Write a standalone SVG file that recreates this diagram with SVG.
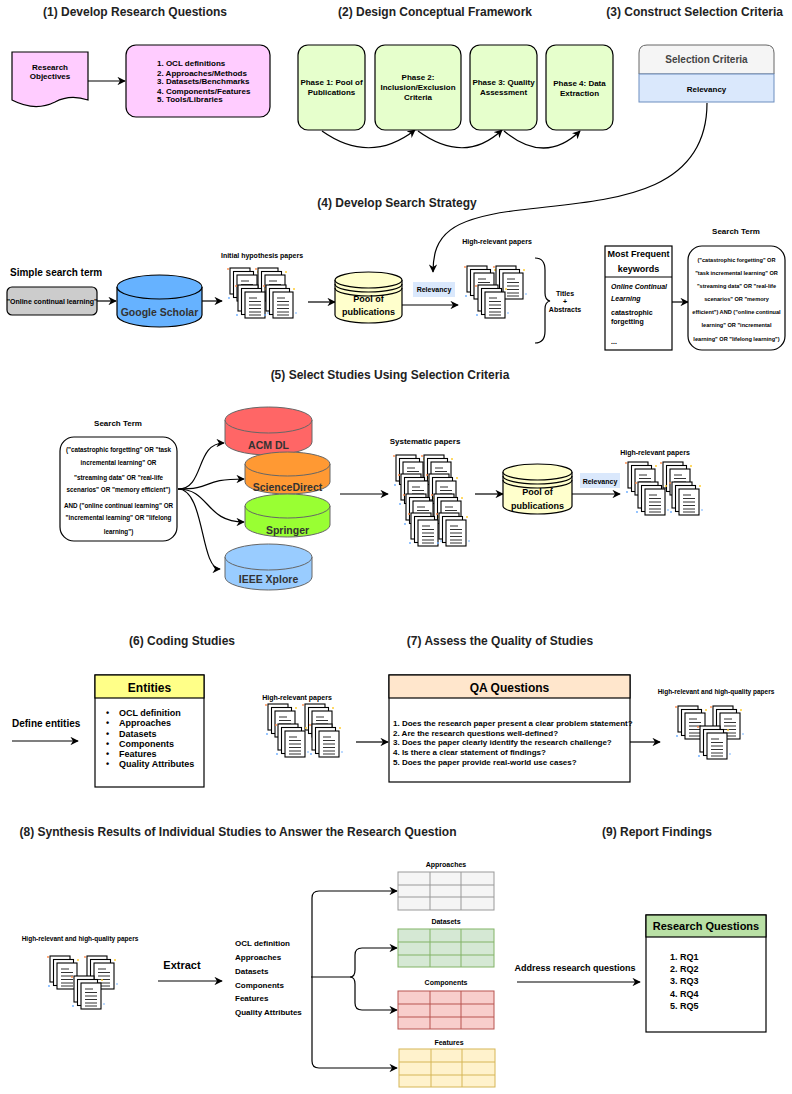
<svg xmlns="http://www.w3.org/2000/svg" xmlns:xlink="http://www.w3.org/1999/xlink" width="792" height="1094" viewBox="0 0 792 1094">
<style>
text{font-family:"Liberation Sans",Arial,sans-serif;font-weight:bold;fill:#000}
.t{font-size:12px;text-anchor:middle;fill:#222}
.c{text-anchor:middle}
.s7{font-size:7px}.s8{font-size:8px}.s9{font-size:9px}.s10{font-size:10px}
.ln{fill:none;stroke:#000;stroke-width:1.2}
.bx{stroke:#000;stroke-width:1.2}
.sh{fill:#fff;stroke:#000;stroke-width:1.1}
.db{font-size:10.5px;fill:#333}
</style>
<defs>
<marker id="a" viewBox="0 0 10 10" refX="9" refY="5" markerWidth="7" markerHeight="7" orient="auto"><path d="M0,0 L10,5 L0,10 L3,5z" fill="#000"/></marker>
<g id="stk">
<rect class="sh" x="0" y="0" width="20" height="26"/>
<rect class="sh" x="3.5" y="3.5" width="20" height="26"/>
<rect class="sh" x="7" y="7" width="20" height="26"/>
<path d="M11,13h8M11,16.5h12M11,20h12M11,23.5h12M11,27h12M11,30h12" stroke="#333" stroke-width="1.2"/>
<circle cx="-2" cy="1" r="0.9" fill="#f84"/><circle cx="28" cy="4" r="1" fill="#fc3"/><circle cx="-1" cy="30" r="0.9" fill="#6af"/><circle cx="30" cy="28" r="0.8" fill="#6af"/>
</g>
</defs>

<text class="t" x="135" y="16">(1) Develop Research Questions</text>
<text class="t" x="435" y="16">(2) Design Conceptual Framework</text>
<text class="t" x="783" y="16" style="text-anchor:end">(3) Construct Selection Criteria</text>
<text class="t" x="397" y="207">(4) Develop Search Strategy</text>
<text class="t" x="390" y="379">(5) Select Studies Using Selection Criteria</text>
<text class="t" x="182" y="645">(6) Coding Studies</text>
<text class="t" x="500" y="645">(7) Assess the Quality of Studies</text>
<text class="t" x="238" y="836">(8) Synthesis Results of Individual Studies to Answer the Research Question</text>
<text class="t" x="657" y="836">(9) Report Findings</text>

<g id="connectors">
<path class="ln" d="M88,81 H125" marker-end="url(#a)"/>
<path class="ln" d="M322,131 Q370,165 415,130" marker-end="url(#a)"/>
<path class="ln" d="M418,131 Q465,165 502,130" marker-end="url(#a)"/>
<path class="ln" d="M504,131 Q545,165 580,131" marker-end="url(#a)"/>
<path class="ln" d="M707,103 C707,200 600,200 520,210 C450,218 433,235 433,272" marker-end="url(#a)"/>
<path class="ln" d="M97,301 H116" marker-end="url(#a)"/>
<path class="ln" d="M202,301 H222" marker-end="url(#a)"/>
<path class="ln" d="M308,302 H335" marker-end="url(#a)"/>
<path class="ln" d="M402,305 H458" marker-end="url(#a)"/>
<path class="ln" d="M535,258 Q545,258 545,270 V293 Q545,300 550,301 Q545,302 545,309 V331 Q545,343 535,343"/>
<path class="ln" d="M672,302 H688" marker-end="url(#a)"/>
<path class="ln" d="M178,489 C205,489 195,443 224,443" marker-end="url(#a)"/>
<path class="ln" d="M178,489 C215,489 200,479 244,479" marker-end="url(#a)"/>
<path class="ln" d="M178,489 C210,489 205,522 244,522" marker-end="url(#a)"/>
<path class="ln" d="M178,489 C205,489 200,569 220,569" marker-end="url(#a)"/>
<path class="ln" d="M340,494 H388" marker-end="url(#a)"/>
<path class="ln" d="M475,494 H503" marker-end="url(#a)"/>
<path class="ln" d="M572,494 H620" marker-end="url(#a)"/>
<path class="ln" d="M12,741 H78" marker-end="url(#a)"/>
<path class="ln" d="M356,742 H388" marker-end="url(#a)"/>
<path class="ln" d="M630,742 H660" marker-end="url(#a)"/>
<path class="ln" d="M158,981 H222" marker-end="url(#a)"/>
<path class="ln" d="M311,977 H350 Q355,977 355,970 V955 Q355,948 362,948 H397" marker-end="url(#a)"/>
<path class="ln" d="M350,977 Q355,977 355,984 V1003 Q355,1010 362,1010 H397" marker-end="url(#a)"/>
<path class="ln" d="M312,977 V898 Q312,891 319,891 H397" marker-end="url(#a)"/>
<path class="ln" d="M312,977 V1061 Q312,1068 319,1068 H397" marker-end="url(#a)"/>
<path class="ln" d="M517,982 H640" marker-end="url(#a)"/>
</g>

<g id="objectives">
<path class="bx" d="M12,52 H88 V100 Q70,94 55,102 Q35,112 12,100 Z" fill="#FFCCFF"/>
<text class="c s8" x="50" y="70">Research</text><text class="c s8" x="50" y="79">Objectives</text>
</g>
<g id="rq-list">
<rect class="bx" x="126" y="45" width="144" height="72" rx="10" fill="#FFCCFF"/>
<text class="s8" x="157" y="66">1. OCL definitions</text>
<text class="s8" x="157" y="76">2. Approaches/Methods</text>
<text class="s8" x="157" y="84">3. Datasets/Benchmarks</text>
<text class="s8" x="157" y="94">4. Components/Features</text>
<text class="s8" x="157" y="102">5. Tools/Libraries</text>
</g>
<g id="phase1"><rect class="bx" x="298" y="45" width="67" height="85" rx="10" fill="#E6FFCC"/>
<text class="c s8" x="331.5" y="85">Phase 1: Pool of</text><text class="c s8" x="331.5" y="95">Publications</text></g>
<g id="phase2"><rect class="bx" x="375" y="45" width="86" height="85" rx="10" fill="#E6FFCC"/>
<text class="c s8" x="418" y="80">Phase 2:</text><text class="c s8" x="418" y="90">Inclusion/Exclusion</text><text class="c s8" x="418" y="100">Criteria</text></g>
<g id="phase3"><rect class="bx" x="470" y="45" width="67" height="85" rx="10" fill="#E6FFCC"/>
<text class="c s8" x="503.5" y="85">Phase 3: Quality</text><text class="c s8" x="503.5" y="95">Assessment</text></g>
<g id="phase4"><rect class="bx" x="546" y="45" width="67" height="85" rx="10" fill="#E6FFCC"/>
<text class="c s8" x="579.5" y="86">Phase 4: Data</text><text class="c s8" x="579.5" y="96">Extraction</text></g>
<g id="selection-criteria">
<path d="M639,74 V53 Q639,45 647,45 H766 Q774,45 774,53 V74 Z" fill="#f5f5f5" stroke="#666"/>
<rect x="639" y="74" width="135" height="28" fill="#dae8fc" stroke="#6c8ebf"/>
<text class="c s10" x="706.5" y="63" style="fill:#444">Selection Criteria</text>
<text class="c s8" x="706.5" y="92">Relevancy</text>
</g>
<g id="simple-term">
<text class="s10" x="10" y="276">Simple search term</text>
<rect class="bx" x="7" y="287" width="90" height="28" rx="5" fill="#ccc"/>
<text class="c s7" x="52" y="304">"Online continual learning"</text>
</g>
<g id="google-scholar">
<path class="bx" d="M117,287 V315 A42.5,12 0 0 0 202,315 V287" fill="#66B2FF"/>
<ellipse class="bx" cx="159.5" cy="287" rx="42.5" ry="12" fill="#66B2FF"/>
<text class="c db" x="159.5" y="316">Google Scholar</text>
</g>
<g id="initial-papers">
<text class="c s7" x="262" y="258">Initial hypothesis papers</text>
<use xlink:href="#stk" x="230" y="268"/><use xlink:href="#stk" x="258" y="268"/>
<use xlink:href="#stk" x="238" y="285"/><use xlink:href="#stk" x="266" y="285"/>
</g>
<g id="pool1">
<path class="bx" d="M335,280 V315 A33.5,8 0 0 0 402,315 V280" fill="#FFFFCC"/>
<ellipse class="bx" cx="368.5" cy="280" rx="33.5" ry="8" fill="#FFFFCC"/>
<path class="ln" d="M335,284 A33.5,8 0 0 0 402,284 M335,288 A33.5,8 0 0 0 402,288"/>
<text class="c s9" x="368.5" y="302">Pool of</text><text class="c s9" x="368.5" y="315">publications</text>
</g>
<g id="relevancy1"><rect x="413" y="282" width="42" height="15" fill="#dae8fc"/><text class="c s7" x="434" y="292">Relevancy</text></g>
<g id="high-relevant1">
<text class="c s7" x="497" y="244">High-relevant papers</text>
<use xlink:href="#stk" x="467" y="266"/><use xlink:href="#stk" x="496" y="266"/><use xlink:href="#stk" x="478" y="285"/>
<text class="c s7" x="565" y="296">Titles</text><text class="c s7" x="565" y="304">+</text><text class="c s7" x="565" y="312">Abstracts</text>
</g>
<g id="keywords">
<rect class="bx" x="605" y="246" width="67" height="104" fill="#fff"/>
<line x1="605" y1="277" x2="672" y2="277" stroke="#000"/>
<text class="c s9" x="638.5" y="257">Most Frequent</text><text class="c s9" x="638.5" y="272">keywords</text>
<text class="s7" x="611" y="289" font-style="italic">Online Continual</text>
<text class="s7" x="611" y="301" font-style="italic">Learning</text>
<text class="s7" x="611" y="315">catastrophic</text><text class="s7" x="611" y="324">forgetting</text>
<text class="s7" x="611" y="344">...</text>
</g>
<g id="search-term1">
<text class="c s8" x="736" y="234">Search Term</text>
<rect class="bx" x="688" y="246" width="97" height="104" rx="14" fill="#fff"/>
<text class="c" x="736.5" y="262" style="font-size:5.6px">("catastrophic forgetting" OR</text>
<text class="c" x="736.5" y="275" style="font-size:5.6px">"task incremental learning" OR</text>
<text class="c" x="736.5" y="288" style="font-size:5.6px">"streaming data" OR "real-life</text>
<text class="c" x="736.5" y="301" style="font-size:5.6px">scenarios" OR "memory</text>
<text class="c" x="736.5" y="314" style="font-size:5.6px">efficient") AND ("online continual</text>
<text class="c" x="736.5" y="327" style="font-size:5.6px">learning" OR "incremental</text>
<text class="c" x="736.5" y="341" style="font-size:5.6px">learning" OR "lifelong learning")</text>
</g>
<g id="search-term2">
<text class="c s8" x="118" y="426">Search Term</text>
<rect class="bx" x="60" y="437" width="117" height="104" rx="14" fill="#fff"/>
<text class="c" x="118.5" y="452" style="font-size:6.3px">("catastrophic forgetting" OR "task</text>
<text class="c" x="118.5" y="465" style="font-size:6.3px">incremental learning" OR</text>
<text class="c" x="118.5" y="480" style="font-size:6.3px">"streaming data" OR "real-life</text>
<text class="c" x="118.5" y="492" style="font-size:6.3px">scenarios" OR "memory efficient")</text>
<text class="c" x="118.5" y="508" style="font-size:6.3px">AND ("online continual learning" OR</text>
<text class="c" x="118.5" y="520" style="font-size:6.3px">"incremental learning" OR "lifelong</text>
<text class="c" x="118.5" y="534" style="font-size:6.3px">learning")</text>
</g>
<g id="acm"><path d="M225,420 V442 A43.5,13 0 0 0 312,442 V420" fill="#FF6666" stroke="#666"/>
<ellipse cx="268.5" cy="420" rx="43.5" ry="13" fill="#FF6666" stroke="#666"/><text class="c db" x="268.5" y="449">ACM DL</text></g>
<g id="sciencedirect"><path d="M245,464 V482 A42.5,12 0 0 0 330,482 V464" fill="#FF9933" stroke="#666"/>
<ellipse cx="287.5" cy="464" rx="42.5" ry="12" fill="#FF9933" stroke="#666"/><text class="c db" x="287.5" y="491">ScienceDirect</text></g>
<g id="springer"><path d="M245,506 V525 A42.5,12 0 0 0 330,525 V506" fill="#99FF33" stroke="#666"/>
<ellipse cx="287.5" cy="506" rx="42.5" ry="12" fill="#99FF33" stroke="#666"/><text class="c db" x="287.5" y="534">Springer</text></g>
<g id="ieee"><path d="M225,557 V577 A43.5,13 0 0 0 312,577 V557" fill="#99CCFF" stroke="#666"/>
<ellipse cx="268.5" cy="557" rx="43.5" ry="13" fill="#99CCFF" stroke="#666"/><text class="c db" x="268.5" y="583">IEEE Xplore</text></g>
<g id="systematic-papers">
<text class="c s8" x="425" y="444">Systematic papers</text>
<use xlink:href="#stk" x="396" y="455"/><use xlink:href="#stk" x="424" y="455"/>
<use xlink:href="#stk" x="401" y="474"/><use xlink:href="#stk" x="429" y="474"/>
<use xlink:href="#stk" x="406" y="494"/><use xlink:href="#stk" x="434" y="494"/>
<use xlink:href="#stk" x="411" y="513"/><use xlink:href="#stk" x="439" y="513"/>
</g>
<g id="pool2">
<path class="bx" d="M503,472 V506 A34.5,8 0 0 0 572,506 V472" fill="#FFFFCC"/>
<ellipse class="bx" cx="537.5" cy="472" rx="34.5" ry="8" fill="#FFFFCC"/>
<path class="ln" d="M503,476 A34.5,8 0 0 0 572,476 M503,480 A34.5,8 0 0 0 572,480"/>
<text class="c s9" x="537.5" y="495">Pool of</text><text class="c s9" x="537.5" y="509">publications</text>
</g>
<g id="relevancy2"><rect x="580" y="473" width="40" height="15" fill="#dae8fc"/><text class="c s7" x="600" y="484">Relevancy</text></g>
<g id="high-relevant2">
<text class="c s7" x="655" y="455">High-relevant papers</text>
<use xlink:href="#stk" x="628" y="462"/><use xlink:href="#stk" x="663" y="462"/>
<use xlink:href="#stk" x="638" y="482"/><use xlink:href="#stk" x="672" y="482"/>
</g>
<g id="define-entities"><text class="s10" x="12" y="727">Define entities</text></g>
<g id="entities">
<rect class="bx" x="95" y="675" width="109" height="112" fill="#fff"/>
<rect class="bx" x="95" y="675" width="109" height="23" fill="#FFFF88"/>
<text class="c" x="149.5" y="692" style="font-size:12px">Entities</text>
<text class="s9" x="106" y="716">•</text><text class="s9" x="119" y="716">OCL definition</text>
<text class="s9" x="106" y="726">•</text><text class="s9" x="119" y="726">Approaches</text>
<text class="s9" x="106" y="737">•</text><text class="s9" x="119" y="737">Datasets</text>
<text class="s9" x="106" y="747">•</text><text class="s9" x="119" y="747">Components</text>
<text class="s9" x="106" y="757">•</text><text class="s9" x="119" y="757">Features</text>
<text class="s9" x="106" y="767">•</text><text class="s9" x="119" y="767">Quality Attributes</text>
</g>
<g id="high-relevant3">
<text class="c s7" x="297" y="700">High-relevant papers</text>
<use xlink:href="#stk" x="268" y="704"/><use xlink:href="#stk" x="305" y="704"/>
<use xlink:href="#stk" x="278" y="724"/><use xlink:href="#stk" x="312" y="724"/>
</g>
<g id="qa">
<rect class="bx" x="389" y="675" width="241" height="107" fill="#fff"/>
<rect class="bx" x="389" y="675" width="241" height="23" fill="#FFE6CC"/>
<text class="c" x="509.5" y="692" style="font-size:12px">QA Questions</text>
<text class="s8" x="393" y="726">1. Does the research paper present a clear problem statement?</text>
<text class="s8" x="393" y="736">2. Are the research questions well-defined?</text>
<text class="s8" x="393" y="745">3. Does the paper clearly identify the research challenge?</text>
<text class="s8" x="393" y="755">4. Is there a clear statement of findings?</text>
<text class="s8" x="393" y="765">5. Does the paper provide real-world use cases?</text>
</g>
<g id="hq1">
<text class="c" x="716" y="694" style="font-size:6.5px">High-relevant and high-quality papers</text>
<use xlink:href="#stk" x="678" y="706"/><use xlink:href="#stk" x="713" y="706"/><use xlink:href="#stk" x="700" y="726"/>
</g>
<g id="hq2">
<text class="c" x="80" y="941" style="font-size:6.5px">High-relevant and high-quality papers</text>
<use xlink:href="#stk" x="50" y="956"/><use xlink:href="#stk" x="87" y="956"/><use xlink:href="#stk" x="74" y="976"/>
<text x="182" y="969" style="font-size:11px" class="c">Extract</text>
</g>
<g id="extract-list">
<text class="s8" x="235" y="946">OCL definition</text>
<text class="s8" x="235" y="960">Approaches</text>
<text class="s8" x="235" y="974">Datasets</text>
<text class="s8" x="235" y="988">Components</text>
<text class="s8" x="235" y="1001">Features</text>
<text class="s8" x="235" y="1015">Quality Attributes</text>
</g>
<g id="t-approaches">
<text class="c s7" x="446" y="867">Approaches</text>
<rect x="398" y="872" width="96" height="38" fill="#f5f5f5" stroke="#999"/>
<path d="M398,885H494M398,897H494M430,872V910M461,872V910" stroke="#999"/>
</g>
<g id="t-datasets">
<text class="c s7" x="446" y="924">Datasets</text>
<rect x="398" y="929" width="96" height="38" fill="#d5e8d4" stroke="#82b366"/>
<path d="M398,942H494M398,955H494M430,929V967M461,929V967" stroke="#82b366"/>
</g>
<g id="t-components">
<text class="c s7" x="446" y="985">Components</text>
<rect x="398" y="991" width="96" height="38" fill="#f8cecc" stroke="#b85450"/>
<path d="M398,1004H494M398,1017H494M430,991V1029M461,991V1029" stroke="#b85450"/>
</g>
<g id="t-features">
<text class="c s7" x="449" y="1045">Features</text>
<rect x="399" y="1049" width="96" height="38" fill="#fff2cc" stroke="#d6b656"/>
<path d="M399,1062H495M399,1075H495M431,1049V1087M462,1049V1087" stroke="#d6b656"/>
</g>
<g id="address"><text class="c s9" x="575" y="971">Address research questions</text></g>
<g id="research-questions">
<rect class="bx" x="646" y="915" width="120" height="117" fill="#fff"/>
<rect class="bx" x="646" y="915" width="120" height="22" fill="#B9E0A5"/>
<text class="c" x="706" y="930" style="font-size:11px">Research Questions</text>
<text class="s9" x="670" y="960">1. RQ1</text>
<text class="s9" x="670" y="972">2. RQ2</text>
<text class="s9" x="670" y="984">3. RQ3</text>
<text class="s9" x="670" y="997">4. RQ4</text>
<text class="s9" x="670" y="1009">5. RQ5</text>
</g>
</svg>
